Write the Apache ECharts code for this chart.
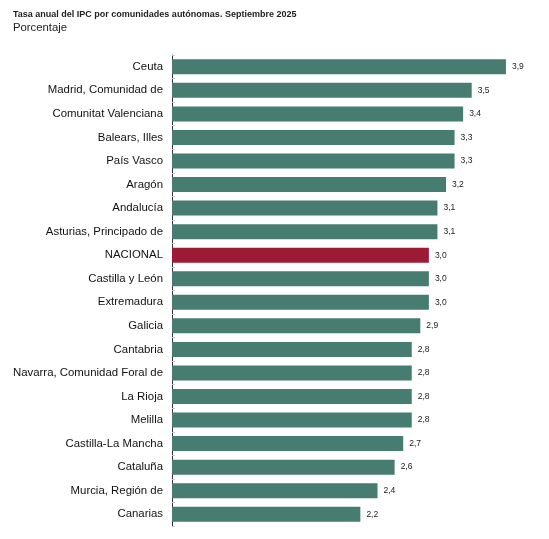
<!DOCTYPE html>
<html lang="es">
<head>
    <meta charset="UTF-8">
    <title>IPC comunidades</title>
    <style>
        body, html { margin: 0; padding: 0; background: #fff; }
    </style>
</head>
<body>
<div id="main" style="width:549px; height:539px;"></div>
<script src="https://cdn.jsdelivr.net/npm/echarts@6/dist/echarts.min.js"></script>
<script>
    var regiones = ['Ceuta', 'Madrid, Comunidad de', 'Comunitat Valenciana', 'Balears, Illes', 'País Vasco',
        'Aragón', 'Andalucía', 'Asturias, Principado de', 'NACIONAL', 'Castilla y León', 'Extremadura',
        'Galicia', 'Cantabria', 'Navarra, Comunidad Foral de', 'La Rioja', 'Melilla', 'Castilla-La Mancha',
        'Cataluña', 'Murcia, Región de', 'Canarias'];
    var tasas = [3.9, 3.5, 3.4, 3.3, 3.3, 3.2, 3.1, 3.1, 3.0, 3.0, 3.0, 2.9, 2.8, 2.8, 2.8, 2.8, 2.7, 2.6, 2.4, 2.2];

    var verde = '#477d70';
    var rojo = '#9c1a34';

    var myChart = echarts.init(document.getElementById('main'));
    myChart.setOption({
        backgroundColor: '#fff',
        animation: false,
        title: {
            text: 'Tasa anual del IPC por comunidades autónomas. Septiembre 2025',
            subtext: 'Porcentaje',
            left: 8,
            top: 5,
            itemGap: 3,
            textStyle: { fontFamily: 'Liberation Sans', fontSize: 9, fontWeight: 'bold', color: '#222' },
            subtextStyle: { fontFamily: 'Liberation Sans', fontSize: 11.3, color: '#222' }
        },
        grid: { left: 172, top: 55, bottom: 13, right: 34.5, containLabel: false },
        xAxis: {
            type: 'value',
            min: 0,
            max: 4,
            show: false
        },
        yAxis: {
            type: 'category',
            inverse: true,
            data: regiones,
            axisLine: { show: true, lineStyle: { color: '#333', width: 1 } },
            axisTick: { show: true, inside: true, length: 3, lineStyle: { color: '#c8c8c8' } },
            axisLabel: { margin: 9, fontFamily: 'Liberation Sans', fontSize: 11.4, color: '#111' }
        },
        series: [{
            type: 'bar',
            barWidth: 15,
            data: tasas.map(function (v, i) {
                return {
                    value: v,
                    itemStyle: { color: regiones[i] === 'NACIONAL' ? rojo : verde }
                };
            }),
            label: {
                show: true,
                position: 'right',
                distance: 6,
                fontFamily: 'Liberation Sans',
                fontSize: 8.5,
                color: '#222',
                formatter: function (p) {
                    return p.value.toFixed(1).replace('.', ',');
                }
            }
        }]
    });
</script>
</body>
</html>
